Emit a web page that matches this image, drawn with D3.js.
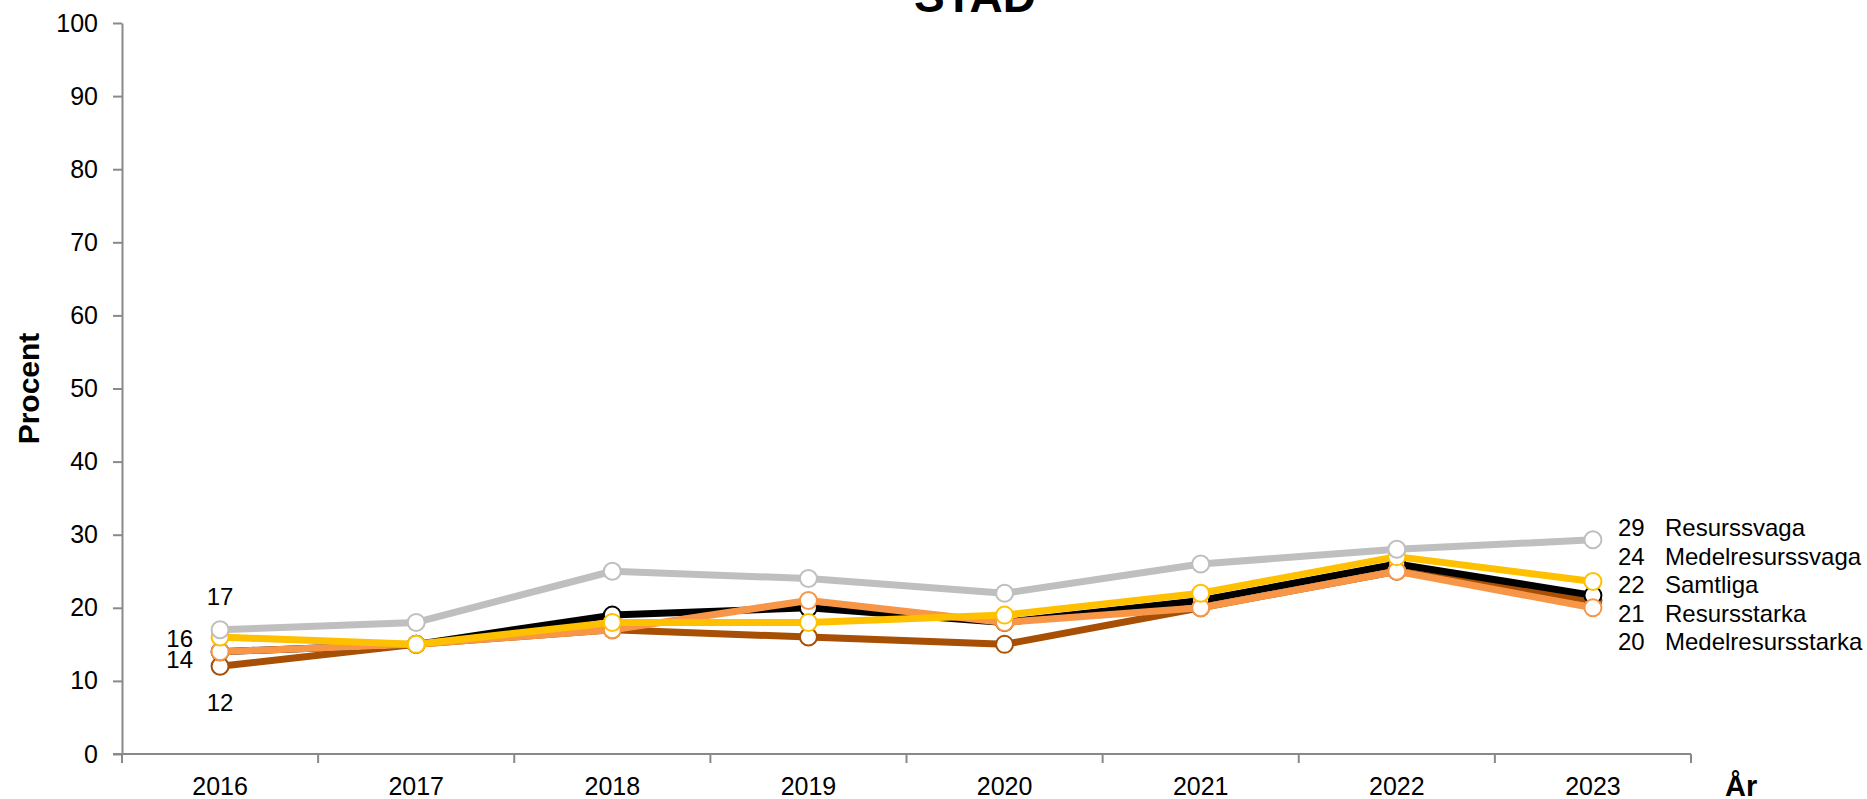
<!DOCTYPE html>
<html>
<head>
<meta charset="utf-8">
<script src="https://cdn.jsdelivr.net/npm/d3@7"></script>
<style>
  html, body { margin: 0; padding: 0; background: #fff; }
  svg { display: block; font-family: "Liberation Sans", Arial, sans-serif; }
</style>
</head>
<body>
<svg id="chart" width="1867" height="799"></svg>
<script>
// ---- data ----
const title = "STAD";
const years = ["2016", "2017", "2018", "2019", "2020", "2021", "2022", "2023"];
const yTicks = [0, 10, 20, 30, 40, 50, 60, 70, 80, 90, 100];
const seriesNames = ["Resursstarka", "Samtliga", "Medelresursstarka", "Medelresurssvaga", "Resurssvaga"];
const seriesColors = ["#A64F05", "#000000", "#F79646", "#FFC000", "#BFBFBF"];
const resursstarka      = [12, 15, 17, 16, 15, 20, 25, 21];
const samtliga          = [14, 15, 19, 20, 18, 21, 26, 21.7];
const medelresursstarka = [14, 15, 17, 21, 18, 20, 25, 20];
const medelresurssvaga  = [16, 15, 18, 18, 19, 22, 27, 23.6];
const resurssvaga       = [17, 18, 25, 24, 22, 26, 28, 29.3];
const seriesValues = [resursstarka, samtliga, medelresursstarka, medelresurssvaga, resurssvaga];
// right-hand end labels (top to bottom)
const endLabelNames  = ["Resurssvaga", "Medelresurssvaga", "Samtliga", "Resursstarka", "Medelresursstarka"];
const endLabelValues = [29, 24, 22, 21, 20];
// left-hand start labels
const startLabelSeries = ["Resurssvaga", "Medelresurssvaga", "Medelresursstarka", "Resursstarka"];
const startLabelValues = [17, 16, 14, 12];

// ---- layout ----
const svg = d3.select("#chart");
const font = '"Liberation Sans", Arial, sans-serif';
const axisColor = "#898989";
const plot = { left: 122, right: 1691, top: 23, bottom: 754 };

const x = d3.scaleBand().domain(years).range([plot.left, plot.right]).padding(0);
const y = d3.scaleLinear().domain([0, 100]).range([plot.bottom, plot.top]);
const cx = d => x(d) + x.bandwidth() / 2;

// Title (partly cut at the top like the reference)
svg.append("text").attr("x", 975).attr("y", 12)
  .attr("text-anchor", "middle").attr("font-size", 46).attr("font-weight", "bold")
  .attr("fill", "#000").text(title);

// Y axis
const yAxis = d3.axisLeft(y).tickValues(yTicks).tickSize(9).tickPadding(15).tickSizeOuter(0);
const gy = svg.append("g").attr("transform", `translate(${plot.left},0)`).call(yAxis);
gy.select(".domain").attr("stroke", axisColor).attr("stroke-width", 2);
gy.selectAll(".tick line").attr("stroke", axisColor).attr("stroke-width", 2);
gy.selectAll(".tick text").attr("font-size", 25).attr("font-family", font).attr("fill", "#000");

// X axis: ticks at band boundaries
const gx = svg.append("g").attr("transform", `translate(0,${plot.bottom})`);
gx.append("line").attr("x1", plot.left - 9).attr("x2", plot.right).attr("y1", 0).attr("y2", 0)
  .attr("stroke", axisColor).attr("stroke-width", 2);
const bounds = years.map(d => x(d)).concat([plot.right]);
gx.selectAll("line.bt").data(bounds).join("line").attr("class", "bt")
  .attr("x1", d => d).attr("x2", d => d).attr("y1", 0).attr("y2", 9)
  .attr("stroke", axisColor).attr("stroke-width", 2);
gx.selectAll("text").data(years).join("text")
  .attr("x", d => cx(d)).attr("y", 41).attr("text-anchor", "middle")
  .attr("font-size", 25).attr("font-family", font).attr("fill", "#000").text(d => d);

// Axis titles
svg.append("text").attr("transform", `translate(39,${(plot.top + plot.bottom) / 2}) rotate(-90)`)
  .attr("text-anchor", "middle").attr("font-size", 30).attr("font-weight", "bold").text("Procent");
svg.append("text").attr("x", 1725).attr("y", 796)
  .attr("font-size", 29).attr("font-weight", "bold").text("År");

// Series
const line = d3.line().x((d, i) => cx(years[i])).y(d => y(d));
seriesNames.forEach((name, s) => {
  const vals = seriesValues[s];
  const g = svg.append("g").attr("class", "series");
  g.append("path").datum(vals).attr("d", line).attr("fill", "none")
    .attr("stroke", seriesColors[s]).attr("stroke-width", 7).attr("stroke-linejoin", "round");
  g.selectAll("circle").data(vals).join("circle")
    .attr("cx", (d, i) => cx(years[i])).attr("cy", d => y(d)).attr("r", 8.5)
    .attr("fill", "#fff").attr("stroke", seriesColors[s]).attr("stroke-width", 2);
});

// Start labels
const startOffsets = [[0, -25], [-27, 10], [-27, 16], [0, 45]];
const startAnchors = ["middle", "end", "end", "middle"];
startLabelSeries.forEach((name, k) => {
  const s = seriesNames.indexOf(name);
  const v = seriesValues[s][0];
  svg.append("text")
    .attr("x", cx(years[0]) + startOffsets[k][0])
    .attr("y", y(v) + startOffsets[k][1])
    .attr("text-anchor", startAnchors[k]).attr("font-size", 24).attr("font-family", font)
    .text(startLabelValues[k]);
});

// End labels
endLabelNames.forEach((name, k) => {
  const yy = 536 + k * 28.5;
  svg.append("text").attr("x", 1618).attr("y", yy).attr("font-size", 24).attr("font-family", font)
    .text(endLabelValues[k]);
  svg.append("text").attr("x", 1665).attr("y", yy).attr("font-size", 24).attr("font-family", font)
    .text(name);
});
</script>
</body>
</html>
